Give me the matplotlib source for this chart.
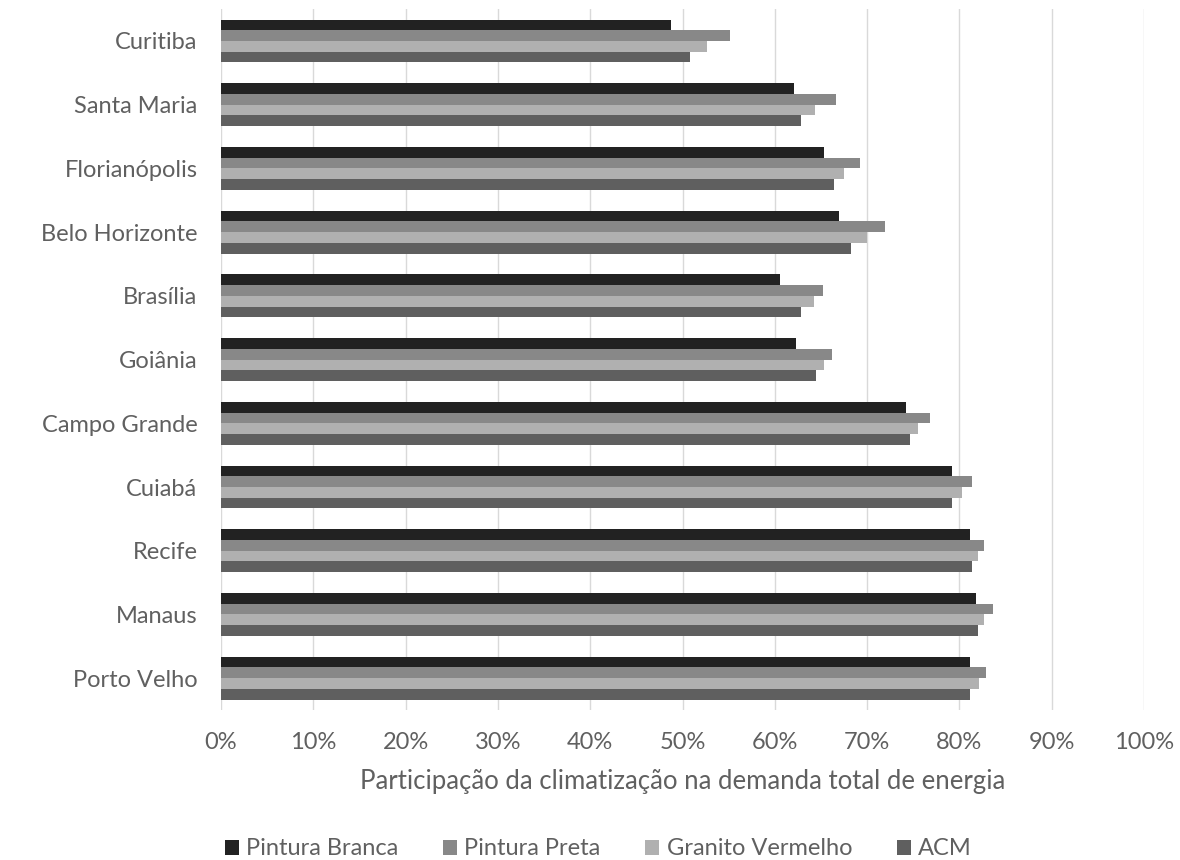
import numpy as np
import matplotlib.pyplot as plt
from matplotlib.ticker import PercentFormatter

plt.rcParams['font.family'] = ['Lato', 'DejaVu Sans']

cidades = ['Curitiba', 'Santa Maria', 'Florianópolis', 'Belo Horizonte', 'Brasília',
           'Goiânia', 'Campo Grande', 'Cuiabá', 'Recife', 'Manaus', 'Porto Velho']

# participação (%) de cada revestimento por cidade
pintura_branca = [48.8, 62.1, 65.3, 67.0, 60.6, 62.3, 74.2, 79.2, 81.2, 81.8, 81.1]
pintura_preta = [55.1, 66.6, 69.2, 71.9, 65.2, 66.2, 76.8, 81.4, 82.7, 83.6, 82.9]
granito_vermelho = [52.7, 64.4, 67.5, 70.0, 64.2, 65.3, 75.5, 80.3, 82.0, 82.7, 82.1]
acm = [50.8, 62.8, 66.4, 68.3, 62.8, 64.5, 74.6, 79.2, 81.4, 82.0, 81.2]

series = [('Pintura Branca', pintura_branca, '#222222'),
          ('Pintura Preta', pintura_preta, '#888888'),
          ('Granito Vermelho', granito_vermelho, '#b0b0b0'),
          ('ACM', acm, '#5f5f5f')]

cinza_texto = '#606060'

fig = plt.figure(figsize=(11.8, 8.6), dpi=100)
ax = fig.add_axes([0.1873, 0.1744, 0.7822, 0.815])

y = np.arange(len(cidades))
h = 0.168
for i, (nome, vals, cor) in enumerate(series):
    ax.barh(y + (i - 1.5) * h, vals, height=h, color=cor, label=nome, zorder=3)

ax.set_xlim(0, 100)
ax.set_ylim(len(cidades) - 0.5, -0.5)
ax.set_xticks(np.arange(0, 101, 10))
ax.xaxis.set_major_formatter(PercentFormatter(decimals=0))
ax.set_yticks(y)
ax.set_yticklabels(cidades)
ax.grid(axis='x', color='#d9d9d9', linewidth=1.0, zorder=0)
ax.tick_params(length=0, labelsize=17, labelcolor=cinza_texto)
ax.tick_params(axis='y', pad=17)
ax.tick_params(axis='x', pad=16)
for s in ax.spines.values():
    s.set_visible(False)

ax.set_xlabel('Participação da climatização na demanda total de energia',
              fontsize=18.5, color=cinza_texto, labelpad=11)

fig.legend(loc='lower center', ncol=4, frameon=False, fontsize=17,
           bbox_to_anchor=(0.507, -0.024), handlelength=0.6, handleheight=0.6,
           handletextpad=0.3, columnspacing=1.9, labelcolor=cinza_texto)

fig.savefig('out.png', dpi=100)
